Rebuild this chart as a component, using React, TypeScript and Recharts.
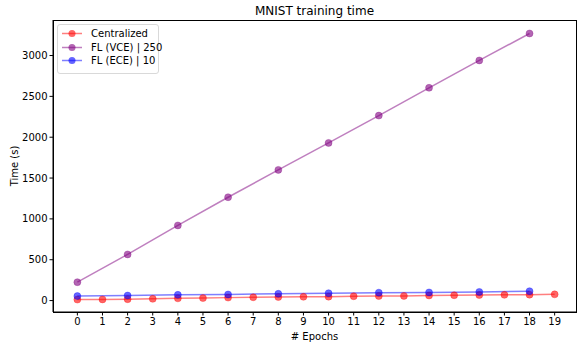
import React from 'react';
import { LineChart, Line, XAxis, YAxis, Label } from 'recharts';

const centralizedEpochs = [0, 1, 2, 3, 4, 5, 6, 7, 8, 9, 10, 11, 12, 13, 14, 15, 16, 17, 18, 19];
const centralizedTime = [12, 14, 17, 21, 27, 30, 36, 40, 43, 46, 48, 53, 55, 57, 62, 65, 67, 70, 72, 76];
const flEpochs = [0, 2, 4, 6, 8, 10, 12, 14, 16, 18];
const vceTime = [225, 565, 920, 1265, 1600, 1930, 2265, 2605, 2940, 3270];
const eceTime = [55, 62, 70, 75, 83, 90, 97, 100, 106, 115];
const xTicks = [0, 1, 2, 3, 4, 5, 6, 7, 8, 9, 10, 11, 12, 13, 14, 15, 16, 17, 18, 19];
const yTicks = [0, 500, 1000, 1500, 2000, 2500, 3000];

const seriesNames = ['Centralized', 'FL (VCE) | 250', 'FL (ECE) | 10'];
const seriesColors = ['#ff0000', '#800080', '#0000ff'];

const centralizedData = centralizedEpochs.map((x, i) => ({ x, y: centralizedTime[i] }));
const vceData = flEpochs.map((x, i) => ({ x, y: vceTime[i] }));
const eceData = flEpochs.map((x, i) => ({ x, y: eceTime[i] }));

const FONT = 'DejaVu Sans, sans-serif';

const makeDot = (color: string) => (props: any) => {
  const { cx, cy, index } = props;
  if (cx == null || cy == null) return <g key={index} />;
  return <circle key={index} cx={cx} cy={cy} r={3.5} fill={color} fillOpacity={0.6} stroke={color} strokeOpacity={0.6} strokeWidth={0.5} />;
};

const LegendBox = () => (
  <div
    style={{
      position: 'absolute',
      left: 57,
      top: 24,
      width: 102,
      height: 50,
      border: '1px solid #d9d9d9',
      borderRadius: 3,
      background: 'rgba(255,255,255,0.8)',
      fontFamily: FONT,
      fontSize: 10,
      color: '#000',
      boxSizing: 'border-box',
    }}
  >
    {seriesNames.map((name, i) => (
      <div key={name} style={{ position: 'absolute', left: 3, top: 2 + i * 13.5, height: 13, display: 'flex', alignItems: 'center' }}>
        <svg width={22} height={13} style={{ display: 'block' }}>
          <line x1={1} y1={6.5} x2={21} y2={6.5} stroke={seriesColors[i]} strokeOpacity={0.5} strokeWidth={1.5} />
          <circle cx={11} cy={6.5} r={3.5} fill={seriesColors[i]} fillOpacity={0.6} />
        </svg>
        <span style={{ marginLeft: 8, whiteSpace: 'nowrap', lineHeight: '13px' }}>{name}</span>
      </div>
    ))}
  </div>
);

export default function App() {
  const tickStyle = { fontSize: 10, fill: '#000', fontFamily: FONT };
  return (
    <div style={{ position: 'absolute', left: 0, top: 0, width: 577, height: 343, background: '#fff' }}>
      <div
        style={{
          position: 'absolute',
          left: 53,
          width: 523,
          top: 4,
          textAlign: 'center',
          fontFamily: FONT,
          fontSize: 12,
          color: '#000',
        }}
      >
        MNIST training time
      </div>
      <LineChart width={577} height={343} margin={{ top: 20, right: 1, bottom: 0, left: 0 }}>
        <XAxis
          type="number"
          dataKey="x"
          domain={[-0.97, 19.85]}
          allowDataOverflow
          ticks={xTicks}
          interval={0}
          tick={tickStyle}
          tickSize={3.5}
          tickMargin={2}
          stroke="#000"
          height={31}
        >
          <Label value="# Epochs" position="insideBottom" offset={3} style={{ fontSize: 10, fill: '#000', fontFamily: FONT }} />
        </XAxis>
        <YAxis
          type="number"
          domain={[-140, 3435]}
          allowDataOverflow
          ticks={yTicks}
          interval={0}
          tick={tickStyle}
          tickSize={3.5}
          tickMargin={2}
          stroke="#000"
          width={53}
        >
          <Label value="Time (s)" angle={-90} position="insideLeft" offset={14} style={{ fontSize: 10, fill: '#000', fontFamily: FONT, textAnchor: 'middle' }} />
        </YAxis>
        <Line
          data={centralizedData}
          dataKey="y"
          stroke={seriesColors[0]}
          strokeOpacity={0.5}
          strokeWidth={1.5}
          dot={makeDot(seriesColors[0])}
          isAnimationActive={false}
        />
        <Line
          data={vceData}
          dataKey="y"
          stroke={seriesColors[1]}
          strokeOpacity={0.5}
          strokeWidth={1.5}
          dot={makeDot(seriesColors[1])}
          isAnimationActive={false}
        />
        <Line
          data={eceData}
          dataKey="y"
          stroke={seriesColors[2]}
          strokeOpacity={0.5}
          strokeWidth={1.5}
          dot={makeDot(seriesColors[2])}
          isAnimationActive={false}
        />
      </LineChart>
      <div
        style={{
          position: 'absolute',
          left: 52.5,
          top: 19.5,
          width: 524,
          height: 293,
          border: '1px solid #000',
          boxSizing: 'border-box',
          pointerEvents: 'none',
        }}
      />
      <LegendBox />
    </div>
  );
}
